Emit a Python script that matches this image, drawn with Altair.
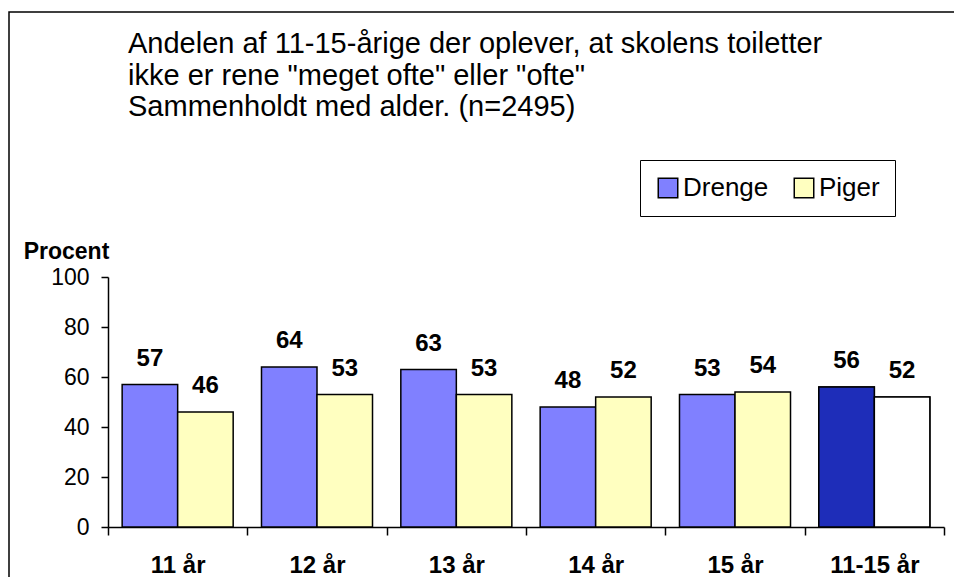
import altair as alt
import pandas as pd

ages = ["11 år", "12 år", "13 år", "14 år", "15 år", "11-15 år"]
drenge = [57, 64, 63, 48, 53, 56]
piger = [46, 53, 53, 52, 54, 52]
series = ["Drenge", "Piger"]

title_lines = [
    "Andelen af 11-15-årige der oplever, at skolens toiletter",
    "ikke er rene \"meget ofte\" eller \"ofte\"",
    "Sammenholdt med alder. (n=2495)",
]

rows = []
for a, d, p in zip(ages, drenge, piger):
    rows.append({"alder": a, "køn": "Drenge", "pct": d})
    rows.append({"alder": a, "køn": "Piger", "pct": p})
df = pd.DataFrame(rows)

FONT = "Liberation Sans"
W, H = 836, 250

x_enc = alt.X(
    "alder:N",
    sort=ages,
    scale=alt.Scale(paddingInner=0, paddingOuter=0),
    axis=alt.Axis(
        title=None,
        tickBand="extent",
        tickSize=8,
        labelFontSize=24,
        labelFontWeight="bold",
        labelPadding=18,
        labelAngle=0,
        grid=False,
    ),
)
xoff = alt.XOffset("køn:N", sort=series, scale=alt.Scale(paddingOuter=0.255, paddingInner=0))
y_enc = alt.Y(
    "pct:Q",
    scale=alt.Scale(domain=[0, 100]),
    axis=alt.Axis(
        values=[0, 20, 40, 60, 80, 100],
        tickSize=7,
        labelFontSize=23,
        labelPadding=12,
        grid=False,
        title="Procent",
        titleAngle=0,
        titleFontSize=23,
        titleFontWeight="bold",
        titleX=-42,
        titleY=-19,
        titleAlign="center",
        titleBaseline="alphabetic",
    ),
)

base = alt.Chart(df)

bars = base.mark_bar(stroke="black", strokeWidth=1.5).encode(
    x=x_enc,
    xOffset=xoff,
    y=y_enc,
    color=alt.Color(
        "køn:N",
        sort=series,
        scale=alt.Scale(domain=series, range=["#8080FF", "#FFFFC0"]),
        legend=alt.Legend(
            title=None,
            orient="none",
            legendX=532,
            legendY=-117,
            direction="horizontal",
            symbolType="square",
            symbolSize=380,
            symbolStrokeColor="black",
            symbolStrokeWidth=1.5,
            labelFontSize=26,
            labelOffset=2,
            columnPadding=22,
            padding=15,
            strokeColor="black",
            fillColor="white",
        ),
    ),
)

total_bars = base.transform_filter(alt.datum.alder == "11-15 år").mark_bar(
    stroke="black", strokeWidth=1.5
).encode(
    x=alt.X("alder:N", sort=ages),
    xOffset=alt.XOffset("køn:N", sort=series),
    y=alt.Y("pct:Q"),
    color=alt.Color(
        "køn:N",
        sort=series,
        scale=alt.Scale(domain=series, range=["#1E2DB9", "#FFFFFF"]),
        legend=None,
    ),
)

labels = base.mark_text(
    fontSize=24, fontWeight="bold", font=FONT, color="black", baseline="alphabetic", dy=-19
).encode(
    x=alt.X("alder:N", sort=ages),
    xOffset=alt.XOffset("køn:N", sort=series),
    y=alt.Y("pct:Q"),
    text=alt.Text("pct:Q"),
)

frame = alt.Chart(pd.DataFrame({"f": [0]})).mark_rect(
    filled=False, stroke="black", strokeWidth=1.5
).encode(
    x=alt.value(-99), x2=alt.value(W + 30), y=alt.value(-265), y2=alt.value(H + 60)
)

chart = (
    alt.layer(frame, bars, total_bars, labels)
    .resolve_scale(color="independent")
    .properties(
        width=W,
        height=H,
        background="white",
        autosize=alt.AutoSizeParams(type="none"),
        padding={"left": 100, "top": 269, "right": 10, "bottom": 50},
        title=alt.TitleParams(
            text=title_lines,
            anchor="start",
            frame="group",
            dx=20,
            offset=-111,
            fontSize=29,
            fontWeight="normal",
            font=FONT,
            color="black",
            lineHeight=31.5,
        ),
    )
    .configure_view(stroke="#FFFFFF", strokeWidth=1)
    .configure_axis(
        domainColor="black",
        domainWidth=1.5,
        tickColor="black",
        tickWidth=1.5,
        labelColor="black",
        titleColor="black",
        labelFont=FONT,
        titleFont=FONT,
    )
    .configure_legend(labelFont=FONT, labelColor="black")
)

chart.save("out.html", embed_options={"renderer": "svg", "actions": False})
